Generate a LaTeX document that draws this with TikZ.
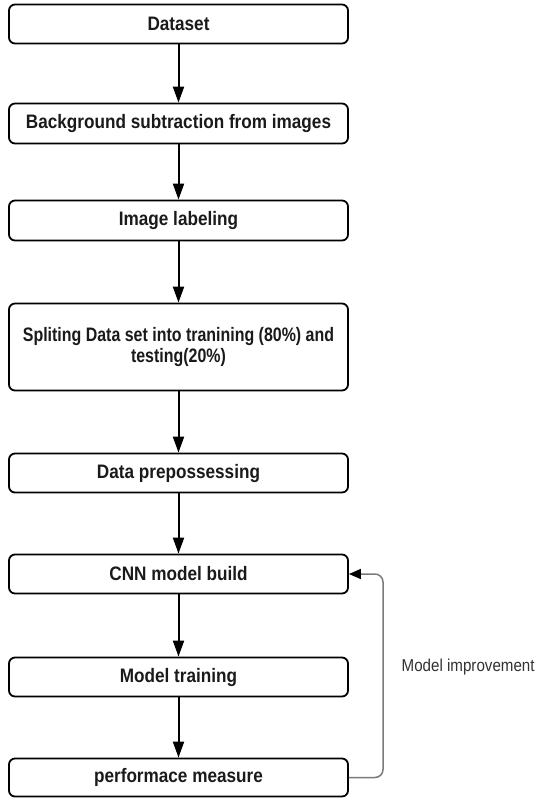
\documentclass[tikz,border=0pt]{standalone}
\usepackage{fontspec}
\usepackage{graphicx}
\setmainfont[FakeStretch=0.88]{Liberation Sans}
\usetikzlibrary{arrows.meta}
\definecolor{fbgray}{HTML}{7A7A7A}
\definecolor{txt}{HTML}{1A1A1A}
\begin{document}
\begin{tikzpicture}[x=1pt,y=-1pt,
  box/.style={draw=black, line width=1.8pt, rounded corners=6pt,
    minimum width=339pt, inner sep=0pt, text=txt,
    font=\fontsize{19.5}{21}\selectfont\bfseries, align=center},
  flow/.style={line width=2pt, -{Triangle[length=16pt,width=11pt]}},
  fb/.style={draw=fbgray, line width=1.5pt, rounded corners=8pt,
    -{Triangle[length=12pt,width=10pt,color=black]}},
  lbl/.style={text=txt!90, font=\fontsize{17.2}{20}\selectfont, inner sep=0pt}
]
\useasboundingbox (0,0) rectangle (536,798);
\node[box, minimum height=39pt] (dataset) at (178.5,24) {Dataset};
\node[box, minimum height=40pt] (bg) at (178.5,123.5) {Background subtraction from images};
\node[box, minimum height=40pt] (label) at (178.5,220.5) {Image labeling};
\node[box, minimum height=87pt] (split) at (178.5,347) {\scalebox{0.93}[1]{Spliting Data set into tranining (80\%) and}\\\scalebox{0.93}[1]{testing(20\%)}};
\node[box, minimum height=39pt] (prep) at (178.5,473) {Data prepossessing};
\node[box, minimum height=39pt] (cnn) at (178.5,574) {CNN model build};
\node[box, minimum height=39pt] (train) at (178.5,677) {Model training};
\node[box, minimum height=38pt] (perf) at (178.5,777.5) {performace measure};
\draw[flow] (dataset) -- (bg);
\draw[flow] (bg) -- (label);
\draw[flow] (label) -- (split);
\draw[flow] (split) -- (prep);
\draw[flow] (prep) -- (cnn);
\draw[flow] (cnn) -- (train);
\draw[flow] (train) -- (perf);
\coordinate (turn) at (383,777.5);
\draw[fb] (perf.east) -- (turn) |- (cnn.east);
\node[lbl, anchor=base west] (impr) at (401.5,671.5) {Model improvement};
\end{tikzpicture}
\end{document}
